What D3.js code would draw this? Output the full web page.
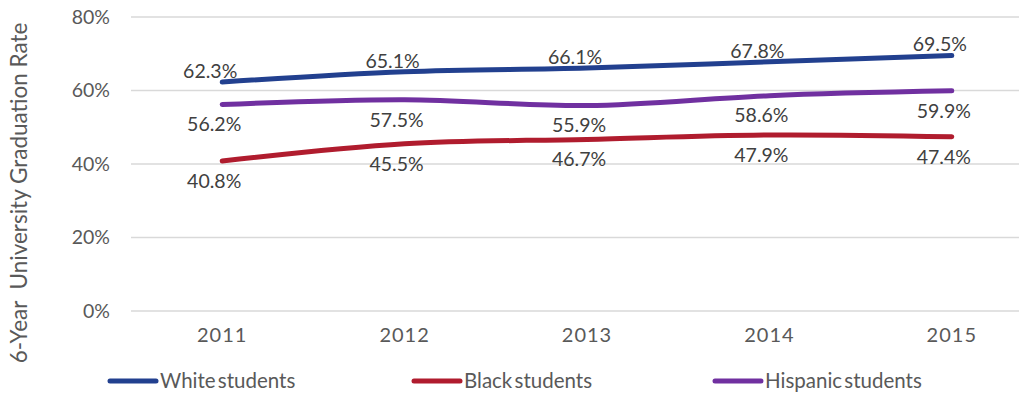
<!DOCTYPE html>
<html><head><meta charset="utf-8">
<script src="https://cdn.jsdelivr.net/npm/d3@7"></script>
<style>body{margin:0;background:#fff;}svg{display:block;font-family:Lato,"Open Sans",sans-serif;}</style>
</head><body><svg id="c" width="1019" height="394"></svg>
<script>
const years = ["2011","2012","2013","2014","2015"];
const white = [62.3, 65.1, 66.1, 67.8, 69.5];
const black = [40.8, 45.5, 46.7, 47.9, 47.4];
const hispanic = [56.2, 57.5, 55.9, 58.6, 59.9];
const seriesNames = ["White students","Black students","Hispanic students"];
const yTicks = [0, 20, 40, 60, 80];

(function(){
const series = [
  {name: seriesNames[0], values: white, color: "#22408f", pos: "above"},
  {name: seriesNames[1], values: black, color: "#b01c2e", pos: "below"},
  {name: seriesNames[2], values: hispanic, color: "#7030a0", pos: "below"}
];

const svg = d3.select("#c");
const mLeft = 131, mRight = 1043, mTop = 17, mBottom = 311;
const x = d3.scaleBand().domain(years).range([mLeft, mRight]);
const y = d3.scaleLinear().domain([0, 80]).range([mBottom, mTop]);
const cx = d => x(d) + x.bandwidth() / 2;

svg.append("g").selectAll("line").data(yTicks).join("line")
  .attr("x1", mLeft).attr("x2", mRight)
  .attr("y1", d => y(d)).attr("y2", d => y(d))
  .attr("stroke", "#d9d9d9").attr("stroke-width", 1.5);

const yAxis = svg.append("g").attr("transform", `translate(${mLeft},0)`)
  .call(d3.axisLeft(y).tickValues(yTicks).tickFormat(d => d + "%").tickSize(0).tickPadding(21));
yAxis.select(".domain").remove();
yAxis.selectAll("text").attr("font-size", 19.5).attr("fill", "#595959").attr("font-family", "Lato");

const xAxis = svg.append("g").attr("transform", `translate(0,${mBottom})`)
  .call(d3.axisBottom(x).tickSize(0).tickPadding(17));
xAxis.select(".domain").remove();
xAxis.selectAll("text").attr("font-size", 20).attr("fill", "#595959").attr("font-family", "Lato")
  .attr("letter-spacing", 1);

svg.append("text")
  .attr("transform", `translate(27,193) rotate(-90)`)
  .attr("text-anchor", "middle")
  .attr("font-size", 22.5).attr("fill", "#595959")
  .attr("xml:space", "preserve").style("white-space", "pre")
  .text("6-Year  University Graduation Rate");

const line = d3.line().x((d, i) => cx(years[i])).y(d => y(d)).curve(d3.curveCatmullRom.alpha(0.5));
svg.append("g").selectAll("path").data(series).join("path")
  .attr("d", s => line(s.values))
  .attr("fill", "none").attr("stroke", s => s.color)
  .attr("stroke-width", 5).attr("stroke-linecap", "round");

series.forEach(s => {
  svg.append("g").selectAll("text").data(s.values).join("text")
    .attr("x", (d, i) => cx(years[i]) + (s.pos === "above" ? -12 : -8))
    .attr("y", d => y(d) + (s.pos === "above" ? -11 : 20))
    .attr("dy", "0.35em")
    .attr("text-anchor", "middle")
    .attr("font-size", 19.5).attr("fill", "#404040")
    .text(d => d.toFixed(1) + "%");
});

const legendX = [110, 414, 715];
const lg = svg.append("g").selectAll("g").data(series).join("g")
  .attr("transform", (s, i) => `translate(${legendX[i]},381)`);
lg.append("line").attr("x1", 0).attr("x2", 46).attr("y1", 0).attr("y2", 0)
  .attr("stroke", s => s.color).attr("stroke-width", 5).attr("stroke-linecap", "round");
lg.append("text").attr("x", 50).attr("dy", "0.35em")
  .attr("font-size", 20.5).attr("fill", "#595959").attr("word-spacing", -3)
  .text(s => s.name);
})();
</script></body></html>
